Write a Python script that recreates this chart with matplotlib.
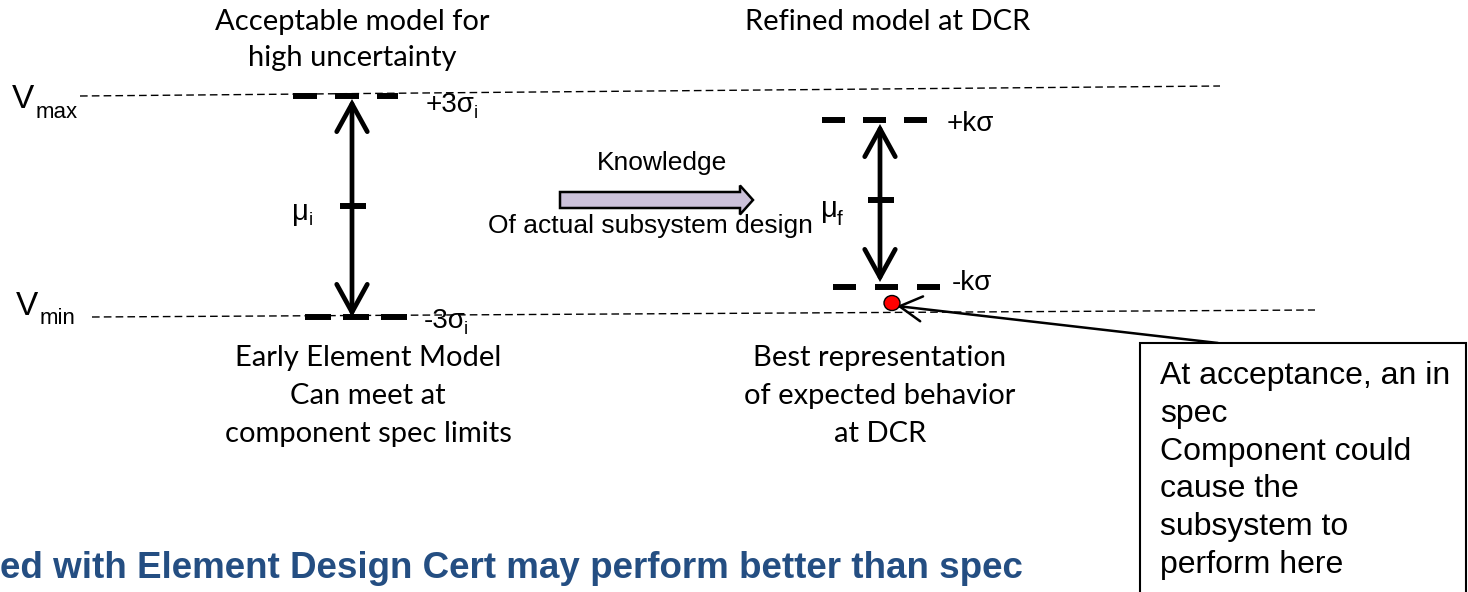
import matplotlib
matplotlib.use("Agg")
import matplotlib.pyplot as plt
from matplotlib.patches import FancyArrowPatch, FancyArrow, Ellipse, Rectangle

plt.rcParams['lines.scale_dashes'] = False

# ---- content ----
top_left_title = ["Acceptable model for", "high uncertainty"]
top_right_title = ["Refined model at DCR"]
bottom_left_caption = ["Early Element Model", "Can meet at", "component spec limits"]
bottom_right_caption = ["Best representation", "of expected behavior", "at DCR"]
limit_labels = ["V", "max", "min"]
initial_levels = ["+3σ", "-3σ", "i"]
refined_levels = ["+kσ", "-kσ"]
mean_labels = ["μ", "i", "f"]
knowledge_text = ["Knowledge", "Of actual subsystem design"]
callout_lines = ["At acceptance, an in", "spec", "Component could",
                 "cause the", "subsystem to", "perform here"]
footer_text = "ed with Element Design Cert may perform better than spec"

W, H = 1468, 592
fig = plt.figure(figsize=(W / 100, H / 100), dpi=100)
ax = fig.add_axes([0, 0, 1, 1])
ax.set_xlim(0, W)
ax.set_ylim(H, 0)
ax.axis('off')

ARIAL = 'Liberation Sans'
CAL = 'Lato'

# thin dashed spec limit lines
ax.plot([80, 1220], [96, 86], color='black', lw=1.0, dashes=(5.5, 3))
ax.plot([92, 1315], [317, 310], color='black', lw=1.0, dashes=(5.5, 3))

# V labels
ax.text(12, 108, limit_labels[0], fontsize=24, family=ARIAL, va='baseline')
ax.text(36, 118, limit_labels[1], fontsize=16, family=ARIAL, va='baseline')
ax.text(16, 315, limit_labels[0], fontsize=24, family=ARIAL, va='baseline')
ax.text(40, 324, limit_labels[2], fontsize=16, family=ARIAL, va='baseline')

# thick dashed level markers
def thick(x0, x1, y, on, off):
    ax.plot([x0, x1], [y, y], color='black', lw=4.3, solid_capstyle='butt',
            dash_capstyle='butt', dashes=(on * 0.72, off * 0.72))

thick(293, 398, 96, 24, 18)
thick(305, 413, 317, 26, 12)
thick(822, 932, 120, 23, 18)
thick(833, 942, 287, 23, 19)

# double arrows
def dbl(x, y0, y1):
    a = FancyArrowPatch((x, y0), (x, y1), arrowstyle='<->,head_length=1.0,head_width=0.55',
                        mutation_scale=20, lw=3.4, color='black',
                        shrinkA=0, shrinkB=0, capstyle='round', joinstyle='miter')
    ax.add_patch(a)

dbl(352, 99, 317)
dbl(880, 124, 282)
ax.plot([340, 366], [206, 206], color='black', lw=4.3, solid_capstyle='butt')
ax.plot([868, 894], [200, 200], color='black', lw=4.3, solid_capstyle='butt')

# level labels
ax.text(426, 112, initial_levels[0], fontsize=20, family=ARIAL, va='baseline')
ax.text(474, 118, initial_levels[2], fontsize=13, family=ARIAL, va='baseline')
ax.text(424, 328, initial_levels[1], fontsize=20, family=ARIAL, va='baseline')
ax.text(464, 334, initial_levels[2], fontsize=13, family=ARIAL, va='baseline')
ax.text(947, 131, refined_levels[0], fontsize=20, family=ARIAL, va='baseline')
ax.text(952, 290, refined_levels[1], fontsize=20, family=ARIAL, va='baseline')

ax.text(292, 220, mean_labels[0], fontsize=21, family=ARIAL, va='baseline')
ax.text(309, 225, mean_labels[1], fontsize=13, family=ARIAL, va='baseline')
ax.text(821, 217, mean_labels[0], fontsize=21, family=ARIAL, va='baseline')
ax.text(837, 225, mean_labels[2], fontsize=15, family=ARIAL, va='baseline')

# Knowledge block arrow
ax.add_patch(FancyArrow(560, 200, 193, 0, width=16, head_width=29, head_length=13,
                        length_includes_head=True, fc='#ccc1da', ec='black', lw=1.8))
ax.text(662, 163, knowledge_text[0], fontsize=19, family=ARIAL, ha='center', va='center')
ax.text(650, 226, knowledge_text[1], fontsize=19, family=ARIAL, ha='center', va='center')

# titles and captions (Calibri-like)
for i, s in enumerate(top_left_title):
    ax.text(352, 22 + 36 * i, s, fontsize=21, family=CAL, ha='center', va='center')
ax.text(888, 22, top_right_title[0], fontsize=21, family=CAL, ha='center', va='center')
for i, s in enumerate(bottom_left_caption):
    ax.text(368, 358 + 38 * i, s, fontsize=21, family=CAL, ha='center', va='center')
for i, s in enumerate(bottom_right_caption):
    ax.text(880, 358 + 38 * i, s, fontsize=21, family=CAL, ha='center', va='center')

# red point and callout
ax.add_patch(Ellipse((892, 303), 16, 15, fc='#ff0000', ec='black', lw=1.0, zorder=5))
ax.annotate('', xy=(897, 306), xytext=(1218, 343),
            arrowprops=dict(arrowstyle='->,head_length=0.8,head_width=0.45',
                            mutation_scale=20, lw=1.8, color='black',
                            shrinkA=0, shrinkB=0))
ax.add_patch(Rectangle((1140, 343), 326, 300, fc='white', ec='black', lw=1.5, zorder=4))
for i, s in enumerate(callout_lines):
    ax.text(1160, 376 + 37.8 * i, s, fontsize=23, family=ARIAL, ha='left',
            va='center', zorder=6)

# footer
ax.text(0, 569, footer_text, fontsize=26.5, family=ARIAL, fontweight='bold',
        color='#244e82', ha='left', va='center')

fig.savefig('out.png', dpi=100)
